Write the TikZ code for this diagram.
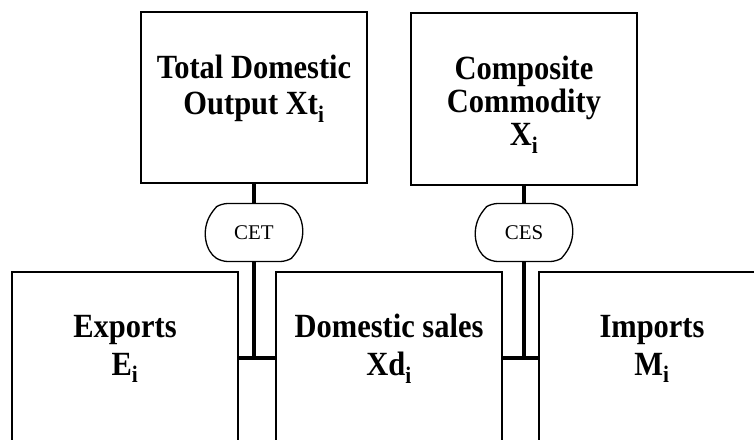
\documentclass[tikz,border=0pt]{standalone}
\usepackage{fontspec}
\setmainfont{Liberation Serif}
\newfontfamily\boxfont{Liberation Serif}[FakeStretch=0.9]
\usetikzlibrary{shapes.misc}

\begin{document}
\begin{tikzpicture}[x=1bp,y=1bp]
\tikzstyle{every node}+=[inner sep=0pt]
\tikzstyle{box}=[draw=black, line width=1.3bp, rectangle, minimum width=226bp]
\tikzstyle{boxtext}=[font=\boxfont\fontsize{34}{36}\selectfont\bfseries, align=center]
\tikzstyle{fn}=[draw=black, line width=1.3bp, rounded rectangle, rounded rectangle arc length=116, minimum width=97bp, minimum height=58bp, font=\fontsize{21}{24}\selectfont, rounded corners=6bp]
\tikzstyle{link}=[black, line width=4bp]
\clip (0,0) rectangle (754,-440);
\node [box, minimum height=171bp] (xt) at (254,-97.5) {};
\node [boxtext] (xttext) at (254,-89) {Total Domestic\\Output Xt\textsubscript{i}};
\node [box, minimum height=172bp] (x) at (524,-99) {};
\node [boxtext, font=\boxfont\fontsize{34}{33}\selectfont\bfseries] (xtext) at (524,-105) {Composite\\Commodity\\X\textsubscript{i}};
\node [fn] (cet) at (254,-232.5) {CET};
\node [fn] (ces) at (524,-232.5) {CES};
\node [box, minimum height=198bp] (e) at (125,-371) {};
\node [boxtext, font=\boxfont\fontsize{34}{38}\selectfont\bfseries] (etext) at (125,-349) {Exports\\E\textsubscript{i}};
\node [box, minimum height=198bp] (xd) at (389,-371) {};
\node [boxtext, font=\boxfont\fontsize{34}{38}\selectfont\bfseries] (xdtext) at (389,-349) {Domestic sales\\Xd\textsubscript{i}};
\node [box, minimum height=198bp] (m) at (652,-371) {};
\node [boxtext, font=\boxfont\fontsize{34}{38}\selectfont\bfseries] (mtext) at (652,-349) {Imports\\M\textsubscript{i}};
\coordinate (cetjoin) at (254,-358);
\coordinate (cesjoin) at (524,-358);
\draw [link] (xt.south) -- (cet.north);
\draw [link] (cet.south) -- (cetjoin);
\draw [link] (e.east |- cetjoin) -- (xd.west |- cetjoin);
\draw [link] (x.south) -- (ces.north);
\draw [link] (ces.south) -- (cesjoin);
\draw [link] (xd.east |- cesjoin) -- (m.west |- cesjoin);
\end{tikzpicture}
\end{document}
